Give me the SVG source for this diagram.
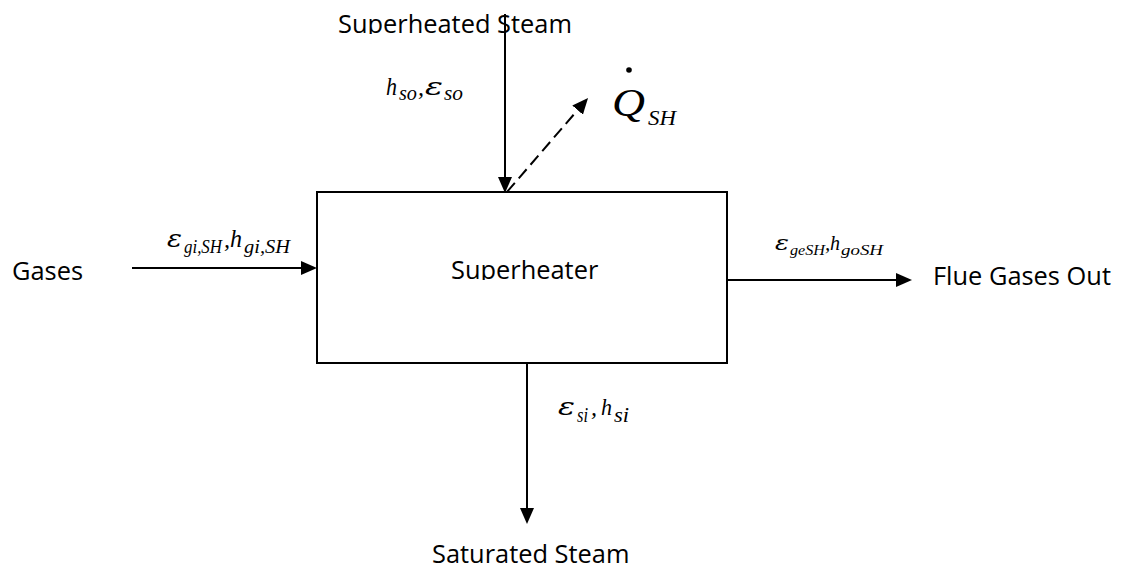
<svg xmlns="http://www.w3.org/2000/svg" width="1122" height="570" viewBox="0 0 1122 570">
<style>
.lbl{font-family:"Open Sans","Liberation Sans",sans-serif;font-size:25.4px;fill:#000}
.m{font-family:"Liberation Serif","Times New Roman",serif;font-style:italic;fill:#000}
.e{font-family:"DejaVu Serif","Liberation Serif",serif;font-style:italic;fill:#000}
.ln{stroke:#000;stroke-width:2;fill:none}
</style>
<defs>
<marker id="ah" markerUnits="userSpaceOnUse" markerWidth="16" markerHeight="14" refX="0" refY="7" orient="auto">
<path d="M0,0 L16,7 L0,14 z" fill="#000"/>
</marker>
<clipPath id="c1"><rect x="0" y="0" width="1122" height="34"/></clipPath>
<clipPath id="c2"><rect x="0" y="240" width="1122" height="40"/></clipPath>
</defs>
<rect width="1122" height="570" fill="#fff"/>
<g id="superheater">
<rect x="317" y="192" width="410" height="171" fill="#fff" stroke="#000" stroke-width="2"/>
<text class="lbl" x="451" y="279" clip-path="url(#c2)">Superheater</text>
</g>
<g id="superheated-steam">
<text class="lbl" x="338" y="33" clip-path="url(#c1)">Superheated Steam</text>
</g>
<g id="gases">
<text class="lbl" x="12" y="280">Gases</text>
</g>
<g id="flue-gases-out">
<text class="lbl" x="933" y="285">Flue Gases Out</text>
</g>
<g id="saturated-steam">
<text class="lbl" x="432" y="563">Saturated Steam</text>
</g>
<g id="heat">
<circle cx="629" cy="70" r="2.8" fill="#000"/>
<text class="m" x="612" y="116" font-size="40" textLength="33" lengthAdjust="spacingAndGlyphs">Q</text>
<text class="m" x="648" y="125" font-size="22" textLength="28" lengthAdjust="spacingAndGlyphs">SH</text>
</g>
<g id="connectors">
<line class="ln" x1="505" y1="14" x2="505" y2="177" marker-end="url(#ah)"/>
<line class="ln" x1="507" y1="192" x2="577.6" y2="110.1" stroke-dasharray="12 6" marker-end="url(#ah)"/>
<line class="ln" x1="132" y1="268" x2="301" y2="268" marker-end="url(#ah)"/>
<line class="ln" x1="727" y1="280" x2="896" y2="280" marker-end="url(#ah)"/>
<line class="ln" x1="527" y1="363" x2="527" y2="508" marker-end="url(#ah)"/>
</g>
<g id="labels">
<text class="m" x="386" y="95" font-size="25" textLength="11" lengthAdjust="spacingAndGlyphs">h</text>
<text class="m" x="399" y="100" font-size="21" textLength="18" lengthAdjust="spacingAndGlyphs">so</text>
<text class="m" x="418" y="95" font-size="24">,</text>
<text class="e" x="425" y="95" font-size="25" textLength="18" lengthAdjust="spacingAndGlyphs">ε</text>
<text class="m" x="444" y="100" font-size="21" textLength="19" lengthAdjust="spacingAndGlyphs">so</text>

<text class="e" x="167" y="247" font-size="25" textLength="15" lengthAdjust="spacingAndGlyphs">ε</text>
<text class="m" x="184" y="253" font-size="18" textLength="38" lengthAdjust="spacingAndGlyphs">gi,SH</text>
<text class="m" x="224" y="247" font-size="24">,</text>
<text class="m" x="230" y="247" font-size="25" textLength="12" lengthAdjust="spacingAndGlyphs">h</text>
<text class="m" x="244" y="253" font-size="18" textLength="46" lengthAdjust="spacingAndGlyphs">gi,SH</text>

<text class="e" x="775" y="250" font-size="21" textLength="14" lengthAdjust="spacingAndGlyphs">ε</text>
<text class="m" x="790" y="255" font-size="15" textLength="35" lengthAdjust="spacingAndGlyphs">geSH</text>
<text class="m" x="825" y="250" font-size="21">,</text>
<text class="m" x="830" y="250" font-size="21" textLength="10" lengthAdjust="spacingAndGlyphs">h</text>
<text class="m" x="841" y="255" font-size="15" textLength="42" lengthAdjust="spacingAndGlyphs">goSH</text>

<text class="e" x="558" y="415" font-size="24" textLength="17" lengthAdjust="spacingAndGlyphs">ε</text>
<text class="m" x="577" y="422" font-size="20" textLength="11" lengthAdjust="spacingAndGlyphs">si</text>
<text class="m" x="591" y="415" font-size="24">,</text>
<text class="m" x="601" y="415" font-size="24" textLength="11" lengthAdjust="spacingAndGlyphs">h</text>
<text class="m" x="614" y="422" font-size="20" textLength="15" lengthAdjust="spacingAndGlyphs">si</text>
</g>
</svg>
